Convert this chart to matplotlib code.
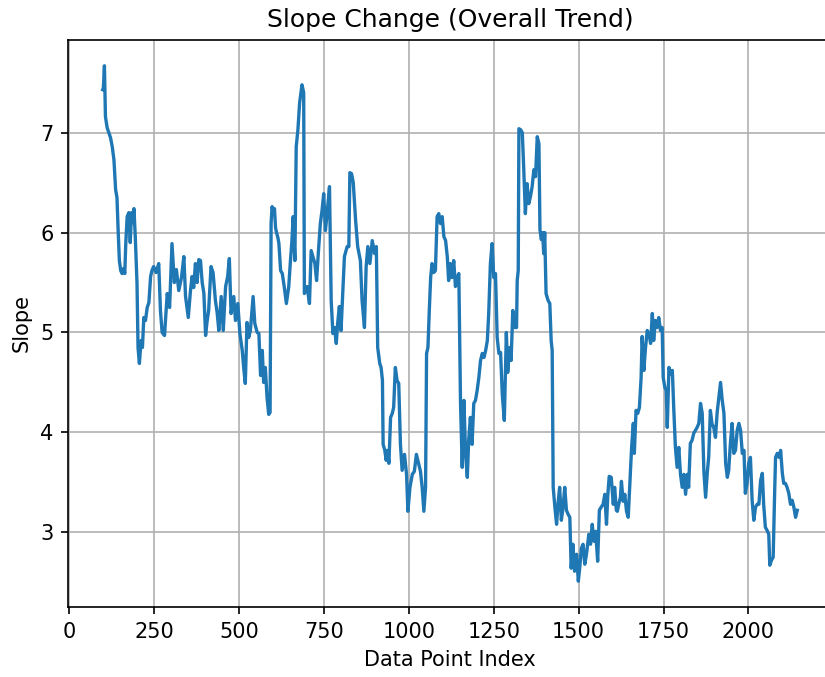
import matplotlib
matplotlib.use("Agg")
import matplotlib.pyplot as plt
from matplotlib.ticker import MultipleLocator

# index of each reading and the slope
idx = [98, 100, 103, 106, 111, 116, 121, 126, 131, 136, 140, 143, 147, 151, 155, 159, 163, 166, 170, 175,
       179, 183, 187, 190, 194, 199, 202, 206, 211, 215, 219, 224, 229, 234, 239, 243, 248, 255, 263, 268,
       273, 280, 288, 295, 302, 309, 315, 322, 330, 337, 342, 350, 356, 361, 366, 371, 376, 381, 386, 391,
       396, 401, 405, 410, 417, 423, 430, 435, 440, 447, 453, 460, 466, 471, 476, 484, 489, 496, 502, 509,
       514, 518, 523, 528, 533, 541, 546, 553, 558, 563, 568, 572, 577, 582, 587, 591, 594, 597, 600, 604,
       607, 610, 614, 617, 622, 627, 630, 633, 639, 646, 651, 655, 659, 664, 668, 673, 678, 685, 690, 692,
       700, 707, 712, 717, 723, 728, 733, 739, 744, 749, 754, 759, 766, 771, 776, 781, 786, 790, 795, 800,
       805, 810, 818, 823, 826, 831, 836, 843, 849, 857, 862, 869, 874, 879, 885, 892, 899, 904, 908, 914,
       918, 922, 924, 929, 933, 937, 941, 946, 951, 955, 960, 965, 970, 975, 980, 987, 993, 997, 1003, 1010,
       1016, 1022, 1029, 1034, 1039, 1044, 1049, 1052, 1056, 1060, 1064, 1068, 1073, 1078, 1083, 1088, 1093, 1098, 1103, 1108,
       1113, 1117, 1122, 1127, 1132, 1137, 1142, 1147, 1152, 1157, 1162, 1167, 1172, 1176, 1181, 1186, 1191, 1196, 1201, 1206,
       1211, 1216, 1221, 1226, 1231, 1235, 1240, 1245, 1250, 1255, 1260, 1265, 1270, 1275, 1281, 1287, 1291, 1297, 1301, 1306,
       1311, 1317, 1319, 1322, 1324, 1329, 1334, 1338, 1343, 1348, 1353, 1358, 1363, 1368, 1373, 1378, 1383, 1386, 1390, 1394,
       1397, 1400, 1404, 1410, 1415, 1419, 1422, 1425, 1430, 1435, 1439, 1444, 1449, 1454, 1459, 1464, 1469, 1474, 1478, 1483,
       1488, 1494, 1499, 1503, 1508, 1513, 1518, 1523, 1530, 1535, 1540, 1545, 1550, 1556, 1561, 1566, 1572, 1577, 1582, 1586,
       1590, 1596, 1602, 1606, 1611, 1614, 1618, 1623, 1626, 1631, 1636, 1641, 1646, 1651, 1656, 1661, 1664, 1669, 1674, 1679,
       1684, 1687, 1692, 1697, 1702, 1707, 1712, 1717, 1721, 1726, 1731, 1736, 1741, 1746, 1749, 1754, 1758, 1761, 1766, 1771,
       1776, 1780, 1785, 1790, 1795, 1800, 1805, 1810, 1815, 1820, 1824, 1829, 1834, 1839, 1844, 1849, 1854, 1859, 1864, 1869,
       1874, 1879, 1883, 1888, 1893, 1898, 1903, 1908, 1913, 1918, 1923, 1928, 1933, 1938, 1942, 1947, 1952, 1957, 1962, 1967,
       1972, 1977, 1982, 1987, 1991, 1996, 2001, 2006, 2011, 2016, 2021, 2026, 2031, 2036, 2041, 2045, 2050, 2055, 2060, 2063,
       2068, 2073, 2077, 2080, 2085, 2090, 2095, 2100, 2104, 2109, 2114, 2119, 2124, 2129, 2134, 2139, 2144]

slope = [7.43, 7.45, 7.67, 7.16, 7.05, 7.0, 6.95, 6.86, 6.73, 6.43, 6.35, 6.06, 5.72, 5.62, 5.59, 5.64, 5.59, 5.9, 6.16, 6.2,
         5.9, 6.2, 6.1, 6.24, 5.95, 5.49, 4.85, 4.69, 4.92, 4.85, 5.15, 5.12, 5.25, 5.3, 5.56, 5.62, 5.66, 5.6, 5.69, 5.22,
         5.0, 4.97, 5.39, 5.25, 5.89, 5.5, 5.63, 5.42, 5.55, 5.76, 5.36, 5.15, 5.4, 5.56, 5.45, 5.69, 5.5, 5.73, 5.72, 5.5,
         5.39, 4.97, 5.1, 5.22, 5.66, 5.6, 5.32, 5.2, 5.02, 5.36, 5.02, 5.46, 5.56, 5.74, 5.19, 5.36, 5.12, 5.29, 4.99, 4.82,
         4.62, 4.49, 5.1, 4.95, 5.02, 5.36, 5.09, 5.0, 4.99, 4.57, 4.82, 4.5, 4.65, 4.35, 4.18, 4.2, 6.1, 6.26, 6.2, 6.24,
         6.05, 6.0, 5.95, 5.89, 5.62, 5.59, 5.52, 5.45, 5.29, 5.46, 5.72, 5.9, 6.16, 5.72, 6.86, 7.03, 7.3, 7.48, 7.4, 5.39,
         5.46, 5.29, 5.82, 5.76, 5.69, 5.52, 5.79, 6.09, 6.22, 6.39, 6.02, 6.19, 6.46, 5.32, 4.99, 5.05, 4.89, 5.09, 5.26, 5.02,
         5.39, 5.76, 5.86, 5.86, 6.6, 6.59, 6.5, 6.12, 5.86, 5.72, 5.32, 5.05, 5.66, 5.86, 5.69, 5.92, 5.79, 5.86, 4.85, 4.69,
         4.65, 4.52, 3.88, 3.82, 3.72, 3.82, 3.69, 4.15, 4.19, 4.25, 4.65, 4.52, 4.49, 3.88, 3.62, 3.78, 3.58, 3.21, 3.45, 3.58,
         3.61, 3.78, 3.68, 3.61, 3.45, 3.21, 3.45, 4.79, 4.85, 5.22, 5.55, 5.69, 5.6, 5.62, 6.16, 6.19, 6.09, 6.16, 5.96, 5.92,
         5.76, 5.52, 5.69, 5.55, 5.72, 5.46, 5.55, 5.59, 4.29, 3.65, 4.32, 3.78, 3.55, 3.92, 4.15, 3.88, 4.29, 4.32, 4.42, 4.55,
         4.72, 4.79, 4.75, 4.82, 4.92, 5.19, 5.69, 5.89, 5.55, 5.59, 4.95, 4.79, 4.8, 4.38, 4.12, 5.0, 4.6, 4.85, 4.72, 5.22,
         5.05, 5.05, 5.52, 5.62, 7.04, 7.03, 7.0, 6.66, 6.19, 6.49, 6.29, 6.36, 6.46, 6.63, 6.56, 6.96, 6.89, 6.03, 5.93, 6.0,
         5.79, 6.0, 5.39, 5.32, 5.29, 4.92, 4.82, 3.45, 3.25, 3.08, 3.28, 3.45, 3.12, 3.25, 3.45, 3.22, 3.18, 3.15, 2.64, 2.88,
         2.61, 2.78, 2.51, 2.64, 2.84, 2.88, 2.68, 2.78, 2.98, 2.88, 3.08, 2.91, 3.01, 2.71, 3.22, 3.25, 3.28, 3.38, 3.08, 3.38,
         3.56, 3.55, 3.28, 3.45, 3.22, 3.21, 3.28, 3.35, 3.51, 3.31, 3.38, 3.21, 3.15, 3.51, 3.85, 4.09, 3.79, 4.22, 4.19, 4.25,
         4.55, 4.96, 4.62, 4.85, 5.02, 4.99, 4.89, 5.19, 4.92, 5.12, 5.05, 5.15, 5.02, 5.05, 4.55, 4.45, 4.42, 4.05, 4.65, 4.58,
         4.62, 4.25, 3.85, 3.65, 3.85, 3.58, 3.45, 3.58, 3.38, 3.58, 3.45, 3.89, 3.92, 3.99, 4.02, 4.05, 4.09, 4.29, 4.19, 3.6,
         3.35, 3.6, 3.75, 4.22, 4.08, 4.05, 3.95, 4.2, 4.35, 4.5, 4.32, 4.19, 3.69, 3.55, 3.62, 3.89, 4.09, 3.79, 3.82, 4.02,
         4.09, 4.02, 3.79, 3.82, 3.39, 3.49, 3.69, 3.75, 3.32, 3.12, 3.25, 3.28, 3.28, 3.52, 3.59, 3.28, 3.05, 3.02, 2.98, 2.67,
         2.72, 2.75, 3.35, 3.75, 3.79, 3.75, 3.82, 3.59, 3.49, 3.49, 3.45, 3.39, 3.28, 3.32, 3.25, 3.15, 3.22]

fig = plt.figure(figsize=(5.5, 677 / 150), dpi=150)
ax = fig.add_axes([68 / 825, 70 / 677, 764 / 825, 567 / 677])  # right spine falls off the picture

ax.plot(idx, slope, color="#1f77b4", linewidth=1.6)
ax.xaxis.set_major_locator(MultipleLocator(250))
ax.set_title("Slope Change (Overall Trend)")
ax.set_xlabel("Data Point Index")
ax.set_ylabel("Slope")
ax.grid(True)

fig.savefig("out.png", dpi=150)
